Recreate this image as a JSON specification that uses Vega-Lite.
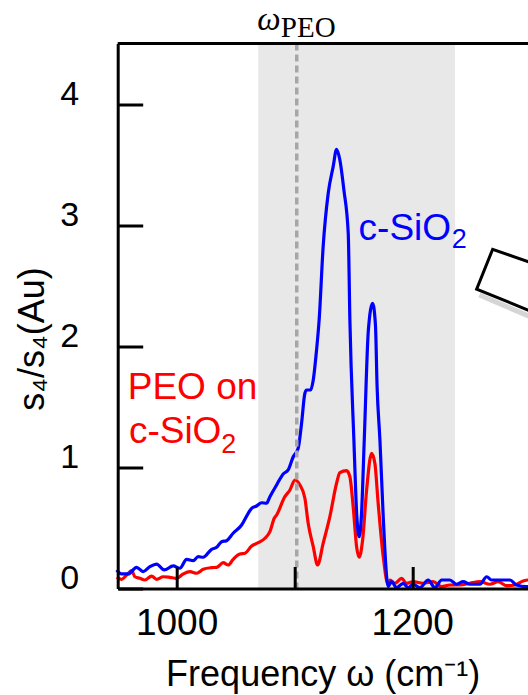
{
  "$schema": "https://vega.github.io/schema/vega-lite/v6.json",
  "width": 410.3,
  "height": 545,
  "autosize": "none",
  "padding": {"left": 117.7, "top": 43.5, "right": 0, "bottom": 106.5},
  "background": "white",
  "config": {"view": {"stroke": null}, "font": "Liberation Sans"},
  "datasets": {
    "blue": [
      {"f": 949.1, "s": 0.153}, {"f": 953.3, "s": 0.12}, {"f": 958.9, "s": 0.12}, {"f": 966.0, "s": 0.175},
      {"f": 971.6, "s": 0.139}, {"f": 977.3, "s": 0.18}, {"f": 983.0, "s": 0.202}, {"f": 989.5, "s": 0.153},
      {"f": 997.1, "s": 0.186}, {"f": 1002.8, "s": 0.167}, {"f": 1008.5, "s": 0.241}, {"f": 1014.1, "s": 0.23},
      {"f": 1018.3, "s": 0.263}, {"f": 1022.6, "s": 0.258}, {"f": 1029.7, "s": 0.324}, {"f": 1034.0, "s": 0.34},
      {"f": 1038.2, "s": 0.386}, {"f": 1042.4, "s": 0.395}, {"f": 1048.0, "s": 0.456}, {"f": 1055.2, "s": 0.524},
      {"f": 1060.8, "s": 0.621}, {"f": 1063.7, "s": 0.662}, {"f": 1067.9, "s": 0.681}, {"f": 1072.2, "s": 0.708},
      {"f": 1076.4, "s": 0.704}, {"f": 1079.2, "s": 0.758}, {"f": 1084.9, "s": 0.855}, {"f": 1090.5, "s": 0.946},
      {"f": 1094.7, "s": 0.979}, {"f": 1099.0, "s": 1.088}, {"f": 1103.2, "s": 1.158}, {"f": 1106.1, "s": 1.364},
      {"f": 1108.9, "s": 1.612}, {"f": 1110.4, "s": 1.639}, {"f": 1113.8, "s": 1.639}, {"f": 1116.0, "s": 1.722},
      {"f": 1118.8, "s": 1.969}, {"f": 1121.0, "s": 2.217}, {"f": 1124.4, "s": 2.822}, {"f": 1128.7, "s": 3.263},
      {"f": 1132.9, "s": 3.483}, {"f": 1135.8, "s": 3.627}, {"f": 1138.6, "s": 3.538}, {"f": 1142.0, "s": 3.291},
      {"f": 1145.7, "s": 2.933}, {"f": 1147.1, "s": 2.217}, {"f": 1150.5, "s": 1.226}, {"f": 1153.0, "s": 0.593},
      {"f": 1155.0, "s": 0.428}, {"f": 1157.0, "s": 0.621}, {"f": 1159.3, "s": 1.226}, {"f": 1162.8, "s": 2.135},
      {"f": 1166.4, "s": 2.355}, {"f": 1168.8, "s": 2.176}, {"f": 1170.2, "s": 1.666}, {"f": 1172.6, "s": 1.226},
      {"f": 1175.4, "s": 0.593}, {"f": 1176.8, "s": 0.318}, {"f": 1179.6, "s": 0.015}, {"f": 1182.5, "s": 0.056},
      {"f": 1186.8, "s": 0.007}, {"f": 1192.4, "s": 0.043}, {"f": 1196.6, "s": 0.007}, {"f": 1200.9, "s": 0.035},
      {"f": 1206.5, "s": 0.007}, {"f": 1213.6, "s": 0.07}, {"f": 1219.3, "s": 0.007}, {"f": 1225.0, "s": 0.07},
      {"f": 1232.0, "s": 0.07}, {"f": 1237.7, "s": 0.035}, {"f": 1243.3, "s": 0.056}, {"f": 1249.0, "s": 0.035},
      {"f": 1257.5, "s": 0.035}, {"f": 1263.2, "s": 0.097}, {"f": 1267.4, "s": 0.07}, {"f": 1274.5, "s": 0.07},
      {"f": 1283.0, "s": 0.07}, {"f": 1288.6, "s": 0.029}, {"f": 1297.1, "s": 0.015}, {"f": 1305.0, "s": 0.02}
    ],
    "red": [
      {"f": 949.1, "s": 0.092}, {"f": 953.3, "s": 0.076}, {"f": 957.6, "s": 0.111}, {"f": 961.8, "s": 0.147},
      {"f": 964.6, "s": 0.097}, {"f": 968.8, "s": 0.084}, {"f": 973.1, "s": 0.07}, {"f": 978.8, "s": 0.103},
      {"f": 983.0, "s": 0.076}, {"f": 988.6, "s": 0.097}, {"f": 994.3, "s": 0.092}, {"f": 1000.0, "s": 0.084},
      {"f": 1005.6, "s": 0.12}, {"f": 1011.3, "s": 0.139}, {"f": 1017.0, "s": 0.126}, {"f": 1022.6, "s": 0.159},
      {"f": 1029.7, "s": 0.172}, {"f": 1034.0, "s": 0.175}, {"f": 1039.6, "s": 0.213}, {"f": 1043.8, "s": 0.194},
      {"f": 1048.0, "s": 0.241}, {"f": 1053.7, "s": 0.285}, {"f": 1058.0, "s": 0.291}, {"f": 1063.7, "s": 0.351},
      {"f": 1069.3, "s": 0.378}, {"f": 1075.0, "s": 0.415}, {"f": 1079.2, "s": 0.469}, {"f": 1082.9, "s": 0.58},
      {"f": 1084.9, "s": 0.607}, {"f": 1091.9, "s": 0.758}, {"f": 1096.2, "s": 0.813}, {"f": 1100.4, "s": 0.896},
      {"f": 1104.7, "s": 0.855}, {"f": 1108.9, "s": 0.745}, {"f": 1111.7, "s": 0.538}, {"f": 1116.0, "s": 0.345},
      {"f": 1119.7, "s": 0.194}, {"f": 1124.4, "s": 0.373}, {"f": 1130.1, "s": 0.593}, {"f": 1135.8, "s": 0.869},
      {"f": 1138.6, "s": 0.956}, {"f": 1144.3, "s": 0.973}, {"f": 1147.1, "s": 0.923}, {"f": 1149.9, "s": 0.675},
      {"f": 1152.8, "s": 0.345}, {"f": 1155.0, "s": 0.258}, {"f": 1157.9, "s": 0.4}, {"f": 1161.3, "s": 0.813},
      {"f": 1165.5, "s": 1.116}, {"f": 1168.3, "s": 1.034}, {"f": 1171.1, "s": 0.704}, {"f": 1175.4, "s": 0.263},
      {"f": 1179.6, "s": 0.029}, {"f": 1181.1, "s": 0.07}, {"f": 1185.3, "s": 0.043}, {"f": 1191.0, "s": 0.084},
      {"f": 1195.2, "s": 0.043}, {"f": 1200.9, "s": 0.056}, {"f": 1209.3, "s": 0.043}, {"f": 1217.8, "s": 0.056},
      {"f": 1225.0, "s": 0.015}, {"f": 1232.0, "s": 0.029}, {"f": 1240.5, "s": 0.029}, {"f": 1249.0, "s": 0.043},
      {"f": 1257.5, "s": 0.056}, {"f": 1266.0, "s": 0.035}, {"f": 1273.0, "s": 0.056}, {"f": 1280.2, "s": 0.023},
      {"f": 1287.2, "s": 0.029}, {"f": 1294.2, "s": 0.062}, {"f": 1298.2, "s": 0.07}, {"f": 1305.0, "s": 0.05}
    ],
    "labels": [
      {"g": "blueMain", "t": "c-SiO", "f": 1154.5, "s": 2.878},
      {"g": "blueSub", "t": "2", "f": 1233.5, "s": 2.812},
      {"g": "redMain", "t": "PEO on", "f": 958.5, "s": 1.565},
      {"g": "redMain", "t": "c-SiO", "f": 959.5, "s": 1.201},
      {"g": "redSub", "t": "2", "f": 1037.8, "s": 1.119},
      {"g": "omega", "t": "ω", "f": 1068.5, "s": 4.612},
      {"g": "peo", "t": "PEO", "f": 1088.5, "s": 4.554}
    ],
    "box": [
      {"k": 0, "f": 1306, "s": 2.672},
      {"k": 1, "f": 1268.3, "s": 2.801},
      {"k": 2, "f": 1254.7, "s": 2.471},
      {"k": 3, "f": 1306, "s": 2.269}
    ],
    "shadow": [
      {"k": 0, "f": 1257.0, "s": 2.424},
      {"k": 1, "f": 1306, "s": 2.22}
    ]
  },
  "layer": [
    {
      "data": {"values": [{}]},
      "mark": {"type": "rect", "color": "#e8e8e8"},
      "encoding": {
        "x": {
          "datum": 1069.3, "type": "quantitative",
          "scale": {"domain": [950, 1298.3], "nice": false, "zero": false},
          "axis": {
            "title": "Frequency ω (cm⁻¹)",
            "values": [1000, 1100, 1200],
            "labelExpr": "datum.value == 1000 || datum.value == 1200 ? datum.label : ''",
            "format": "d",
            "domainColor": "black", "domainWidth": 3,
            "tickColor": "black", "tickWidth": 3, "tickSize": -22,
            "labelPadding": 67.5, "labelBaseline": "alphabetic",
            "labelFont": "Liberation Sans", "labelFontSize": 37, "labelColor": "black",
            "labelFlush": false, "labelOverlap": false, "labelBound": false,
            "titleFont": "Liberation Sans", "titleFontSize": 36, "titleFontWeight": "normal",
            "titleColor": "black", "titleBaseline": "alphabetic", "titleY": 97, "titleX": 205,
            "titleAlign": "center",
            "grid": false, "zindex": 1
          }
        },
        "x2": {"datum": 1236.3},
        "y": {
          "datum": 0, "type": "quantitative",
          "scale": {"domain": [0, 4.5], "nice": false, "zero": false},
          "axis": {
            "title": "s₄/s₄(Au)",
            "values": [0, 1, 2, 3, 4],
            "format": "d",
            "domainColor": "black", "domainWidth": 3,
            "tickColor": "black", "tickWidth": 3, "tickSize": -25,
            "labelPadding": 64, "labelBaseline": "alphabetic", "labelAlign": "right",
            "labelFont": "Liberation Sans", "labelFontSize": 34, "labelColor": "black",
            "labelFlush": false, "labelOverlap": false, "labelBound": false,
            "titleFont": "Liberation Sans", "titleFontSize": 36, "titleFontWeight": "normal",
            "titleColor": "black", "titleBaseline": "alphabetic", "titleAngle": 270,
            "titleX": -74.7, "titleY": 295, "titleAlign": "center",
            "grid": false, "zindex": 1
          }
        },
        "y2": {"datum": 4.5}
      }
    },
    {
      "data": {"name": "red"},
      "mark": {"type": "line", "color": "#ff0000", "strokeWidth": 3.2, "interpolate": "monotone"},
      "encoding": {
        "x": {"field": "f", "type": "quantitative"},
        "y": {"field": "s", "type": "quantitative"}
      }
    },
    {
      "data": {"name": "blue"},
      "mark": {"type": "line", "color": "#0000ff", "strokeWidth": 3.2, "interpolate": "monotone"},
      "encoding": {
        "x": {"field": "f", "type": "quantitative"},
        "y": {"field": "s", "type": "quantitative"}
      }
    },
    {
      "data": {"values": [{}]},
      "mark": {"type": "rule", "color": "#a6a6a6", "strokeWidth": 3.5, "strokeDash": [7, 4]},
      "encoding": {"x": {"datum": 1102, "type": "quantitative"}}
    },
    {
      "data": {"values": [{}]},
      "mark": {"type": "rule", "color": "black", "strokeWidth": 3},
      "encoding": {"y": {"datum": 4.5, "type": "quantitative"}}
    },
    {
      "data": {"name": "labels"},
      "transform": [{"filter": "datum.g == 'blueMain'"}],
      "mark": {"type": "text", "align": "left", "baseline": "alphabetic", "font": "Liberation Sans", "fontSize": 37, "color": "#0000ff"},
      "encoding": {"x": {"field": "f", "type": "quantitative"}, "y": {"field": "s", "type": "quantitative"}, "text": {"field": "t"}}
    },
    {
      "data": {"name": "labels"},
      "transform": [{"filter": "datum.g == 'blueSub'"}],
      "mark": {"type": "text", "align": "left", "baseline": "alphabetic", "font": "Liberation Sans", "fontSize": 27, "color": "#0000ff"},
      "encoding": {"x": {"field": "f", "type": "quantitative"}, "y": {"field": "s", "type": "quantitative"}, "text": {"field": "t"}}
    },
    {
      "data": {"name": "labels"},
      "transform": [{"filter": "datum.g == 'redMain'"}],
      "mark": {"type": "text", "align": "left", "baseline": "alphabetic", "font": "Liberation Sans", "fontSize": 37, "color": "#ff0000"},
      "encoding": {"x": {"field": "f", "type": "quantitative"}, "y": {"field": "s", "type": "quantitative"}, "text": {"field": "t"}}
    },
    {
      "data": {"name": "labels"},
      "transform": [{"filter": "datum.g == 'redSub'"}],
      "mark": {"type": "text", "align": "left", "baseline": "alphabetic", "font": "Liberation Sans", "fontSize": 27, "color": "#ff0000"},
      "encoding": {"x": {"field": "f", "type": "quantitative"}, "y": {"field": "s", "type": "quantitative"}, "text": {"field": "t"}}
    },
    {
      "data": {"name": "labels"},
      "transform": [{"filter": "datum.g == 'omega'"}],
      "mark": {"type": "text", "align": "left", "baseline": "alphabetic", "font": "Liberation Serif", "fontStyle": "italic", "fontSize": 33, "color": "black"},
      "encoding": {"x": {"field": "f", "type": "quantitative"}, "y": {"field": "s", "type": "quantitative"}, "text": {"field": "t"}}
    },
    {
      "data": {"name": "labels"},
      "transform": [{"filter": "datum.g == 'peo'"}],
      "mark": {"type": "text", "align": "left", "baseline": "alphabetic", "font": "Liberation Serif", "fontSize": 29, "color": "black"},
      "encoding": {"x": {"field": "f", "type": "quantitative"}, "y": {"field": "s", "type": "quantitative"}, "text": {"field": "t"}}
    },
    {
      "data": {"name": "shadow"},
      "mark": {"type": "line", "color": "#888888", "opacity": 0.35, "strokeWidth": 5},
      "encoding": {"x": {"field": "f", "type": "quantitative"}, "y": {"field": "s", "type": "quantitative"}, "order": {"field": "k"}}
    },
    {
      "data": {"name": "box"},
      "mark": {"type": "line", "color": "black", "strokeWidth": 3, "strokeJoin": "miter"},
      "encoding": {"x": {"field": "f", "type": "quantitative"}, "y": {"field": "s", "type": "quantitative"}, "order": {"field": "k"}}
    }
  ]
}
